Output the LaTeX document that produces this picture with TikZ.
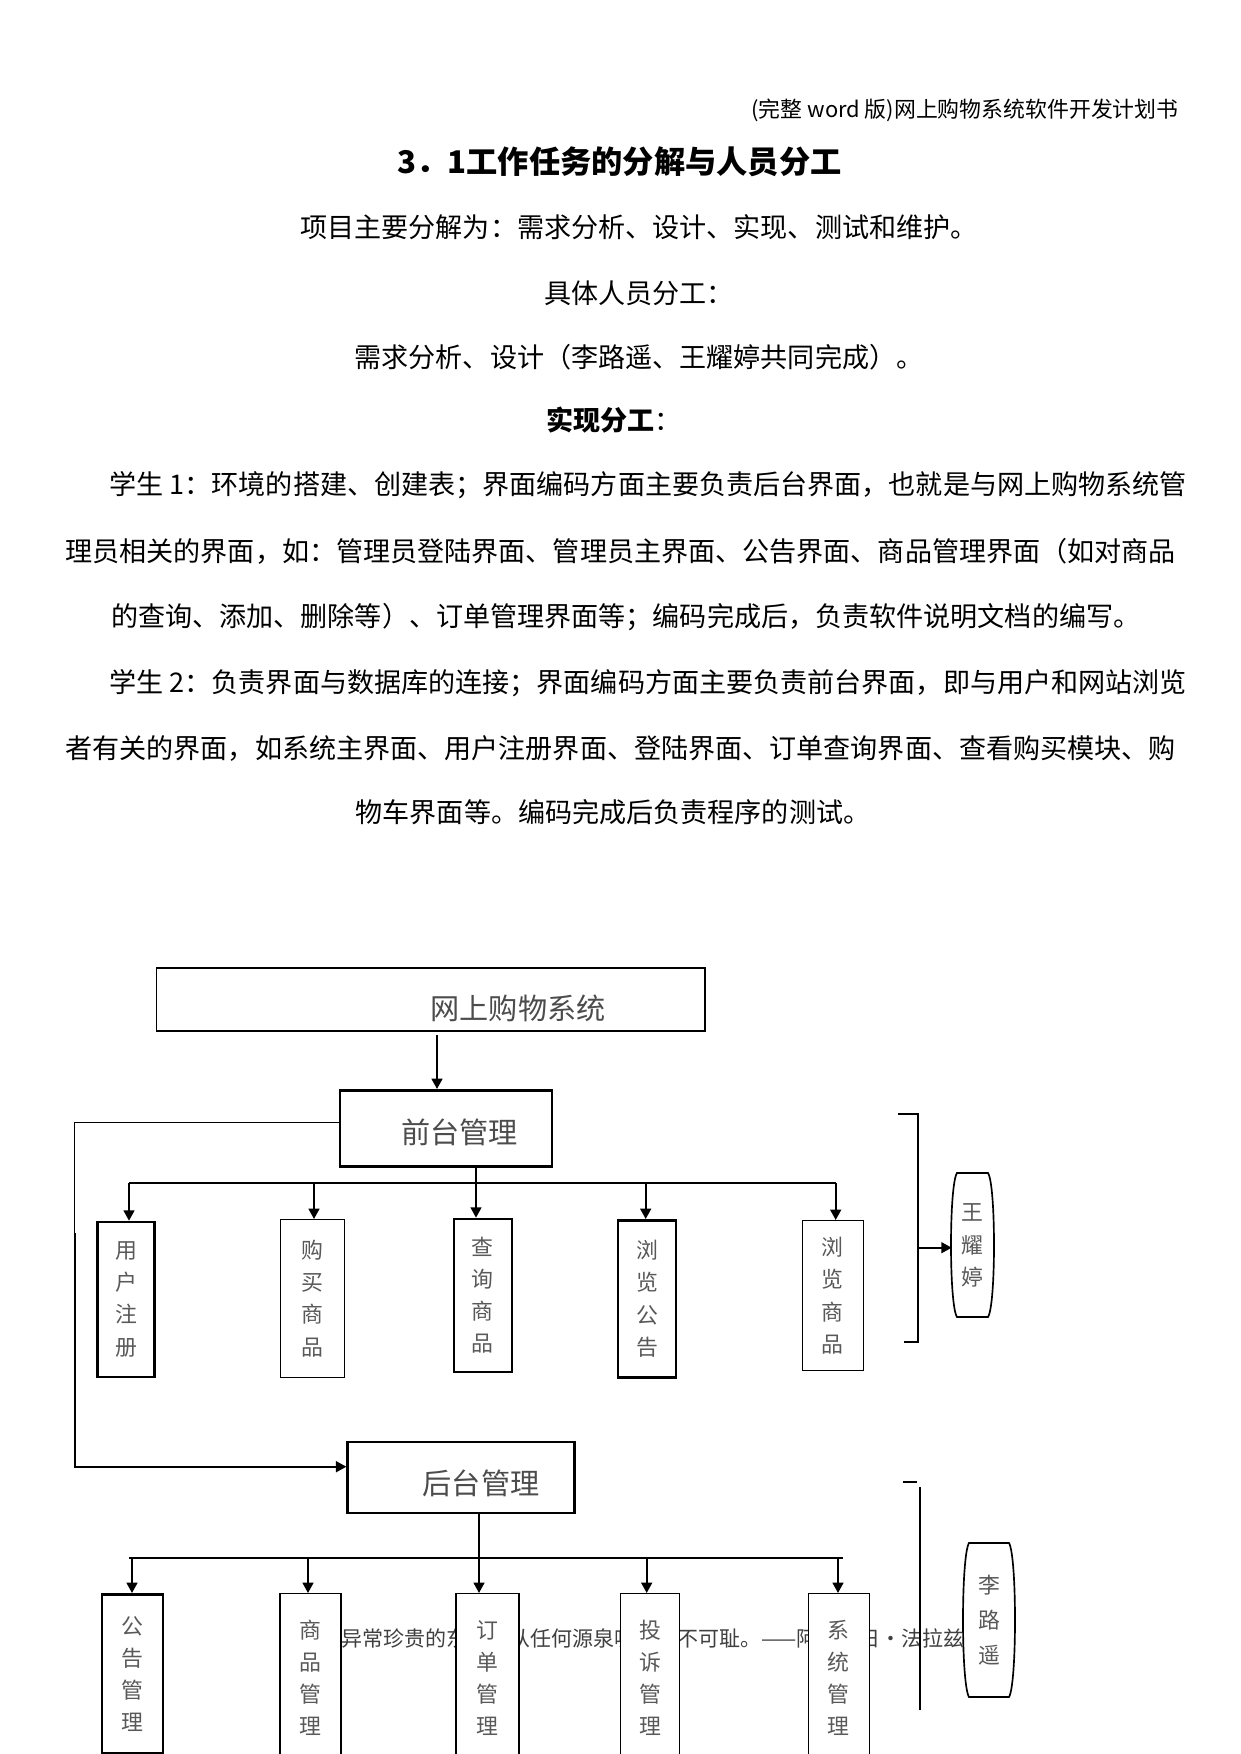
\documentclass[tikz,border=0pt]{standalone}
\usepackage{fontspec}
\setmainfont{Noto Sans CJK SC}
\usetikzlibrary{arrows.meta}
\newcommand{\px}{*0.48pt}
\tikzset{
  box/.style={draw, line width=0.6pt, fill=white, inner sep=0pt, anchor=north west},
  boxthick/.style={box, line width=1.2pt},
  lbl/.style={text=black!70, inner sep=0pt, font=\fontsize{14}{16}\selectfont},
  vlbl/.style={text=black!65, align=center, font=\fontsize{10.5}{15.4}\selectfont},
  body/.style={inner sep=0pt, font=\fontsize{13}{15}\selectfont},
  quote/.style={inner sep=0pt, text=black!75, font=\fontsize{10.08}{12}\selectfont},
  line/.style={line width=1pt},
  arr/.style={line width=1pt, -{Triangle[width=5.2pt,length=5pt]}},
  oval/.style={draw, fill=white, line width=0.8pt}
}
\begin{document}
\begin{tikzpicture}[x=0.48pt,y=-0.48pt]
\useasboundingbox (0,0) rectangle (1241,1754);
\fill[white] (0,0) rectangle (1241,1754);

\node[inner sep=0pt, anchor=east, font=\fontsize{10.5}{12}\selectfont] (hdr) at (1179,110.7) {(完整 word 版)网上购物系统软件开发计划书};
\node[inner sep=0pt, font=\fontsize{15}{18}\selectfont\bfseries] (ttl) at (619.5,161.7) {3．1工作任务的分解与人员分工};
\node[body] (p1) at (639,226.7) {项目主要分解为：需求分析、设计、实现、测试和维护。};
\node[body] (p2) at (639,293) {具体人员分工：};
\node[body] (p3) at (639,356.7) {需求分析、设计（李路遥、王耀婷共同完成）。};
\node[body] (p4) at (614,420) {{\bfseries 实现分工}：};
\node[body, anchor=west] (p5) at (109,485) {学生 1：环境的搭建、创建表；界面编码方面主要负责后台界面，也就是与网上购物系统管};
\node[body, anchor=west] (p6) at (65,551.7) {理员相关的界面，如：管理员登陆界面、管理员主界面、公告界面、商品管理界面（如对商品};
\node[body, anchor=west] (p7) at (110.8,616.7) {的查询、添加、删除等）、订单管理界面等；编码完成后，负责软件说明文档的编写。};
\node[body, anchor=west] (p8) at (109,683) {学生 2：负责界面与数据库的连接；界面编码方面主要负责前台界面，即与用户和网站浏览};
\node[body, anchor=west] (p9) at (65,748) {者有关的界面，如系统主界面、用户注册界面、登陆界面、订单查询界面、查看购买模块、购};
\node[body] (p10) at (613,811.7) {物车界面等。编码完成后负责程序的测试。};

\node[quote, anchor=west] (qte) at (278,1639) {学问是异常珍贵的东西，从任何源泉吸收都不可耻。——阿卜·日·法拉兹};

\node[box, line width=0.9pt, minimum width=548.5\px, minimum height=63\px] (sys) at (155.5,967.3) {};
\node[lbl] (systxt) at (518,1008) {网上购物系统};
\node[boxthick, minimum width=212\px, minimum height=76\px] (qt) at (338.8,1089) {};
\node[lbl] (qttxt) at (459.5,1132) {前台管理};
\node[boxthick, minimum width=227\px, minimum height=71\px] (ht) at (346.4,1440.7) {};
\node[lbl] (httxt) at (481,1483) {后台管理};

\node[boxthick, vlbl, minimum width=57\px, minimum height=155\px] (yhzc) at (96.4,1220.7) {用\\户\\注\\册};
\node[box, vlbl, minimum width=64\px, minimum height=158\px] (gmsp) at (279.5,1219) {购\\买\\商\\品};
\node[boxthick, vlbl, minimum width=58\px, minimum height=153\px] (cxsp) at (452.6,1217.7) {查\\询\\商\\品};
\node[boxthick, vlbl, minimum width=58\px, minimum height=157\px] (llgg) at (616.7,1219) {浏\\览\\公\\告};
\node[box, vlbl, minimum width=61\px, minimum height=150\px] (llsp) at (801.7,1220) {浏\\览\\商\\品};

\node[boxthick, vlbl, minimum width=61\px, minimum height=159\px] (gggl) at (100.8,1593) {公\\告\\管\\理};
\node[box, vlbl, minimum width=61\px, minimum height=169\px] (spgl) at (279.4,1593) {商\\品\\管\\理};
\node[box, vlbl, minimum width=63\px, minimum height=169\px] (ddgl) at (455.4,1593) {订\\单\\管\\理};
\node[box, vlbl, minimum width=59\px, minimum height=169\px] (tsgl) at (620,1593) {投\\诉\\管\\理};
\node[box, vlbl, minimum width=61\px, minimum height=169\px] (xtgl) at (807.5,1593) {系\\统\\管\\理};

\coordinate (a0) at (437,1035);
\draw[arr] (a0) -- (a0 |- qt.north);

\coordinate (d1) at (129,1183);
\coordinate (d2) at (314,1183);
\coordinate (d3) at (476,1183);
\coordinate (d4) at (645.7,1183);
\coordinate (d5) at (835.7,1183);
\draw[line] (d1) -- (d5);
\draw[arr] (qt.south -| d3) -- (d3 |- cxsp.north);
\foreach \d/\b in {d1/yhzc, d2/gmsp, d4/llgg, d5/llsp}
  \draw[arr] (\d) -- (\d |- \b.north);

\coordinate (bl) at (129,1557.7);
\coordinate (br) at (843,1557.7);
\coordinate (e1) at (132,1557.7);
\coordinate (e2) at (308,1557.7);
\coordinate (e3) at (479,1557.7);
\coordinate (e4) at (646.7,1557.7);
\coordinate (e5) at (838,1557.7);
\draw[line] (bl) -- (br);
\draw[arr] (ht.south -| e3) -- (e3 |- ddgl.north);
\foreach \d/\b in {e1/gggl, e2/spgl, e4/tsgl, e5/xtgl}
  \draw[arr] (\d) -- (\d |- \b.north);

\coordinate (k1) at (74.7,1122.7);
\coordinate (k2) at (74.7,1233);
\coordinate (k3) at (74.7,1466.7);
\draw[line width=0.5pt] (qt.west |- k1) -- (k1) -- (k2);
\draw[arr] (k2) -- (k3) -- (k3 -| ht.west);

\draw[oval] (957,1173) -- (988,1173) .. controls (996,1185) and (996,1305) .. (988,1317) -- (957,1317) .. controls (949,1305) and (949,1185) .. cycle;
\node[vlbl, inner sep=0pt, minimum width=41.6\px, minimum height=144\px, anchor=north west] (wyt) at (951.7,1173) {王\\耀\\婷};
\draw[line width=0.5pt] (898,1114) -- (918,1114) -- (918,1342) -- (904,1342);
\coordinate (bw) at (918,1247.7);
\draw[arr] (bw) -- (bw -| wyt.west);

\draw[oval] (969,1543) -- (1009,1543) .. controls (1017,1556) and (1017,1684) .. (1009,1697) -- (969,1697) .. controls (961,1684) and (961,1556) .. cycle;
\node[vlbl, inner sep=0pt, font=\fontsize{10.5}{16.8}\selectfont, minimum width=52\px, minimum height=154\px, anchor=north west] (lly) at (963,1542.7) {李\\路\\遥};
\draw[line width=0.5pt] (903,1482) -- (917,1482);
\draw[line width=0.9pt] (920,1487) -- (920,1710);
\end{tikzpicture}
\end{document}
